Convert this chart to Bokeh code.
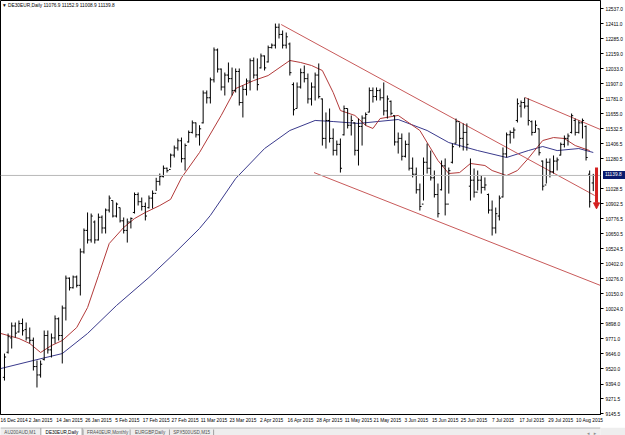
from bokeh.plotting import figure
from bokeh.models import Range1d, FixedTicker, Label, Arrow, NormalHead, Span, ColumnDataSource, LinearAxis, Div
from bokeh.layouts import column
from bokeh.transform import dodge
from bokeh.embed import file_html
from bokeh.resources import INLINE
from bokeh.core.properties import value

FONT = "Liberation Sans"

symbol = "DE30EUR,Daily"

# ---- daily OHLC bars, bar 0 = 16 Dec 2014 ----
highs = [9649, 9817, 9909, 9909, 9926, 9942, 9909, 9867, 9783, 9591,
         9591, 9842, 9842, 9817, 9968, 9951, 10051, 10302, 10286, 10302,
         10302, 10528, 10696, 10830, 10821, 10763, 10821, 10805, 10863, 10972,
         10930, 10913, 10871, 10788, 10779, 10788, 10997, 10997, 10955, 10913,
         10972, 11014, 11120, 11156, 11223, 11206, 11323, 11390, 11449, 11457,
         11407, 11516, 11600, 11583, 11560, 11851, 11851, 11959, 12211, 12202,
         12035, 12001, 12085, 12043, 12035, 12035, 11893, 11951, 12119, 12127,
         12119, 12160, 12144, 12227, 12244, 12411, 12411, 12353, 12336, 12252,
         11918, 11918, 12035, 12060, 11993, 11918, 12001, 12077, 11784, 11667,
         11700, 11533, 11432, 11449, 11725, 11700, 11642, 11583, 11616, 11642,
         11667, 11876, 11876, 11876, 11867, 11918, 11809, 11767, 11642, 11499,
         11491, 11432, 11499, 11290, 11206, 11072, 11290, 11407, 11348, 11181,
         11072, 11265, 11282, 11206, 11407, 11616, 11583, 11575, 11575, 11282,
         11198, 11181, 11139, 11123, 10988, 10930, 10871, 10972, 11374, 11499,
         11516, 11541, 11784, 11767, 11792, 11784, 11600, 11600, 11533, 11265,
         11282, 11282, 11307, 11290, 11415, 11474, 11491, 11658, 11616, 11600,
         11616, 11558, 11181, 11152.9]
lows = [9423, 9649, 9691, 9783, 9825, 9800, 9758, 9733, 9507, 9365,
        9448, 9591, 9649, 9616, 9733, 9758, 9566, 9926, 10177, 10193,
        10202, 10135, 10486, 10570, 10578, 10570, 10595, 10654, 10654, 10830,
        10788, 10788, 10746, 10654, 10578, 10696, 10821, 10888, 10846, 10763,
        10863, 10863, 11010, 11056, 11123, 11164, 11206, 11290, 11348, 11248,
        11181, 11415, 11491, 11457, 11390, 11575, 11742, 11742, 11918, 12001,
        11851, 11809, 11918, 11809, 11834, 11725, 11625, 11809, 11851, 11951,
        11851, 12035, 12018, 12085, 12202, 12202, 12286, 12202, 12202, 11976,
        11642, 11700, 11867, 11918, 11742, 11725, 11767, 11784, 11390, 11365,
        11415, 11307, 11307, 11164, 11474, 11533, 11474, 11307, 11223, 11390,
        11558, 11667, 11750, 11767, 11767, 11642, 11616, 11642, 11390, 11323,
        11265, 11290, 11181, 11123, 10988, 10846, 10930, 11156, 11097, 10955,
        10788, 11014, 10805, 10988, 11240, 11407, 11374, 11348, 11348, 10930,
        10955, 11014, 10988, 11014, 10821, 10637, 10654, 10763, 10955, 11290,
        11407, 11449, 11583, 11625, 11700, 11558, 11474, 11499, 11307, 11014,
        11072, 11123, 11156, 11181, 11307, 11374, 11390, 11491, 11474, 11491,
        11449, 11265, 10871, 11008.9]
opens = [9450, 9660, 9780, 9880, 9830, 9900, 9850, 9780, 9760, 9540,
         9470, 9600, 9800, 9680, 9780, 9940, 9800, 10030, 10280, 10200,
         10290, 10220, 10500, 10680, 10600, 10750, 10600, 10790, 10700, 10850,
         10930, 10800, 10870, 10760, 10680, 10750, 10830, 10980, 10920, 10880,
         10870, 10950, 10990, 11090, 11130, 11200, 11190, 11310, 11370, 11430,
         11280, 11420, 11500, 11580, 11480, 11580, 11830, 11790, 11940, 12190,
         12030, 11880, 11980, 11950, 11850, 12010, 11750, 11860, 11930, 12100,
         11980, 12040, 12140, 12090, 12210, 12230, 12380, 12320, 12230, 12240,
         11900, 11700, 11880, 12000, 11950, 11780, 11880, 11980, 11780, 11450,
         11600, 11450, 11350, 11400, 11480, 11700, 11560, 11580, 11350, 11550,
         11620, 11670, 11850, 11800, 11850, 11790, 11680, 11760, 11640, 11420,
         11450, 11300, 11400, 11200, 11150, 11020, 10900, 11250, 11200, 11120,
         10980, 11020, 11220, 10900, 11250, 11410, 11590, 11450, 11500, 11050,
         11100, 11000, 11100, 11040, 10980, 10850, 10700, 10800, 10960, 11320,
         11480, 11500, 11600, 11720, 11750, 11720, 11590, 11500, 11530, 11260,
         11060, 11250, 11170, 11260, 11310, 11400, 11450, 11500, 11600, 11500,
         11580, 11550, 11150, 11076.9]
closes = [9620, 9790, 9880, 9820, 9900, 9840, 9780, 9760, 9540, 9470,
          9560, 9800, 9680, 9780, 9940, 9800, 10030, 10280, 10200, 10290,
          10220, 10500, 10680, 10600, 10800, 10600, 10790, 10700, 10850, 10950,
          10800, 10900, 10760, 10680, 10750, 10780, 10980, 10920, 10880, 10800,
          10950, 10990, 11090, 11130, 11200, 11180, 11310, 11370, 11430, 11280,
          11390, 11500, 11580, 11480, 11530, 11830, 11790, 11940, 12190, 12030,
          11880, 11980, 11950, 11850, 12010, 11750, 11860, 11930, 12100, 11980,
          11900, 12140, 12040, 12210, 12230, 12380, 12320, 12230, 12300, 12000,
          11690, 11880, 12000, 11950, 11780, 11880, 11980, 11800, 11450, 11600,
          11450, 11350, 11400, 11200, 11700, 11560, 11600, 11350, 11550, 11620,
          11650, 11850, 11800, 11850, 11790, 11680, 11780, 11660, 11420, 11450,
          11300, 11400, 11200, 11150, 11020, 10880, 11250, 11200, 11120, 10980,
          10820, 11220, 10900, 11180, 11380, 11590, 11450, 11500, 11400, 11100,
          11000, 11100, 11040, 11060, 10850, 10700, 10820, 10950, 11320, 11480,
          11500, 11520, 11740, 11750, 11720, 11600, 11500, 11560, 11330, 11050,
          11250, 11170, 11260, 11270, 11400, 11450, 11470, 11640, 11500, 11580,
          11600, 11290, 10920, 11139.8]

# ---- moving averages, read at sample bars ----
ma_fast_idx = [-1, 4, 7, 10, 13, 16, 20, 23, 26, 29, 33, 36, 39, 43, 46, 49, 54, 60, 64,
               69, 73, 79, 82, 85, 88, 91, 93, 97, 100, 102, 104, 109, 115, 120, 123,
               126, 129, 133, 135, 139, 142, 145, 149, 152, 155, 158, 162]
ma_fast_val = [9817, 9775, 9733, 9658, 9716, 9758, 9867, 10034, 10300, 10570, 10704,
               10779, 10830, 10888, 10940, 11120, 11332, 11642, 11867, 11934, 11976,
               12102, 12085, 12060, 12018, 11834, 11683, 11642, 11558, 11533, 11616,
               11642, 11516, 11265, 11156, 11164, 11240, 11223, 11181, 11139, 11181,
               11282, 11432, 11457, 11449, 11390, 11348]
ma_slow_idx = [-1, 8, 16, 23, 31, 40, 47, 54, 57, 64, 72, 79, 86, 91, 98, 109, 117,
               123, 131, 139, 145, 149, 153, 159, 163]
ma_slow_val = [9524, 9591, 9649, 9817, 10051, 10286, 10486, 10696, 10805, 11114, 11365,
               11516, 11600, 11591, 11575, 11608, 11516, 11415, 11348, 11290, 11348,
               11382, 11348, 11365, 11332]

# ---- hand-drawn trend lines and arrow ----
trend_upper_idx = [76.6, 163.4]
trend_upper_val = [12403, 10972]
trend_lower_idx = [85.7, 165.0]
trend_lower_val = [11164, 10219]
trend_right_idx = [144.1, 165.0]
trend_right_val = [11792, 11524]
arrow_idx = 163.9
arrow_from = 11206
arrow_to = 10860

# ---- axes ----
date_labels = ["16 Dec 2014", "2 Jan 2015", "14 Jan 2015", "26 Jan 2015", "5 Feb 2015",
               "17 Feb 2015", "27 Feb 2015", "11 Mar 2015", "23 Mar 2015", "2 Apr 2015",
               "16 Apr 2015", "28 Apr 2015", "11 May 2015", "21 May 2015", "3 Jun 2015",
               "15 Jun 2015", "25 Jun 2015", "7 Jul 2015", "17 Jul 2015", "29 Jul 2015",
               "10 Aug 2015"]
date_idx = [0, 8, 16, 24, 32, 40, 48, 56, 64, 72, 80, 88, 96, 104, 112, 120, 128, 136,
            144, 152, 160]
price_ticks = [12537.0, 12411.0, 12285.0, 12159.0, 12033.0, 11907.0, 11781.0, 11655.0,
               11532.5, 11406.5, 11280.5, 11028.5, 10902.5, 10776.5, 10650.5, 10524.5,
               10402.0, 10276.0, 10150.0, 10024.0, 9898.0, 9771.0, 9646.0, 9520.0,
               9394.0, 9271.5, 9145.5]

tab_names = ["AU200AUD,M1", "DE30EUR,Daily", "FRA40EUR,Monthly", "EURGBP,Daily", "SPX500USD,M15"]

X0, X1 = -1.1, 165.0
Y0, Y1 = 9139, 12604
FS = "4.8px"

p = figure(width=625, height=425, x_range=Range1d(X0, X1), y_range=Range1d(Y0, Y1),
           output_backend="svg", toolbar_location=None,
           x_axis_location=None, y_axis_location=None,
           min_border_left=0, min_border_top=0, min_border_right=22, min_border_bottom=11)
p.grid.visible = False
p.background_fill_color = "white"
p.border_fill_color = "white"
p.outline_line_color = "black"
p.outline_line_width = 1

ay = LinearAxis(ticker=FixedTicker(ticks=price_ticks),
                major_label_overrides={t: f"{t:.1f}" for t in price_ticks})
ay.major_label_text_font = FONT
ay.major_label_text_font_size = FS
ay.major_label_text_color = "black"
ay.major_tick_out = 3
ay.major_tick_in = 0
ay.minor_tick_out = 0
ay.minor_tick_in = 0
ay.major_label_standoff = 2
ay.axis_line_color = "black"
p.add_layout(ay, "right")

shift = 2
ax = LinearAxis(ticker=FixedTicker(ticks=[i + shift for i in date_idx]),
                major_label_overrides={i + shift: lab for i, lab in zip(date_idx, date_labels)})
ax.major_label_text_font = FONT
ax.major_label_text_font_size = FS
ax.major_label_text_color = "black"
ax.major_tick_out = 0
ax.major_tick_in = 0
ax.minor_tick_out = 0
ax.minor_tick_in = 0
ax.major_label_standoff = 3
ax.axis_line_color = "black"
p.add_layout(ax, "below")

# bid line
p.add_layout(Span(location=closes[-1], dimension="width", line_color="#b8b8b8", line_width=1))

# moving averages
p.line(ma_slow_idx, ma_slow_val, line_color="#3a3a8c", line_width=1)
p.line(ma_fast_idx, ma_fast_val, line_color="#b23a3a", line_width=1)

# trend lines
for xs, ys in [(trend_upper_idx, trend_upper_val), (trend_lower_idx, trend_lower_val),
               (trend_right_idx, trend_right_val)]:
    p.line(xs, ys, line_color="#c85a5a", line_width=1)

# OHLC bars
src = ColumnDataSource(dict(x=list(range(len(highs))), h=highs, l=lows, o=opens, c=closes))
p.segment(x0="x", y0="l", x1="x", y1="h", source=src, line_color="black", line_width=1)
p.segment(x0=dodge("x", -0.45), y0="o", x1="x", y1="o", source=src, line_color="black", line_width=1)
p.segment(x0="x", y0="c", x1=dodge("x", 0.45), y1="c", source=src, line_color="black", line_width=1)

# red arrow
p.add_layout(Arrow(end=NormalHead(size=6, fill_color="#d42020", line_color="#d42020"),
                   x_start=arrow_idx, y_start=arrow_from, x_end=arrow_idx, y_end=arrow_to,
                   line_color="#d42020", line_width=3))

# header
header = "\u25bc " + symbol + "  " + " ".join(f"{v:.1f}" for v in
                                            (opens[-1], highs[-1], lows[-1], closes[-1]))
p.add_layout(Label(x=X0 + 0.4, y=Y1 - 40, text=header, text_font=FONT,
                   text_font_size=FS, text_color="black", text_baseline="middle"))

# ---- tab bar ----
t = figure(width=625, height=10, x_range=Range1d(0, 625), y_range=Range1d(0, 10),
           output_backend="svg", toolbar_location=None,
           x_axis_location=None, y_axis_location=None, min_border=0)
t.grid.visible = False
t.outline_line_color = None
t.background_fill_color = "#eeeeee"
t.border_fill_color = "#eeeeee"
tab_x = [4, 47, 90, 140, 180]
sep_x = [86, 135, 176, 222]
t.quad(left=[42], right=[85], bottom=[0], top=[9.6], fill_color="white", line_color="#a0a0a0")
t.segment(x0=[0], y0=[9.6], x1=[42], y1=[9.6], line_color="#a0a0a0")
t.segment(x0=[85], y0=[9.6], x1=[625], y1=[9.6], line_color="#a0a0a0")
t.segment(x0=sep_x, y0=[2] * len(sep_x), x1=sep_x, y1=[8] * len(sep_x), line_color="#a0a0a0")
t.text(x=tab_x, y=[5] * len(tab_x), text=tab_names, text_font=value(FONT),
       text_font_size="4.6px", text_baseline="middle",
       text_color=["#505050", "black", "#505050", "#505050", "#505050"])
t.text(x=[611, 618], y=[5, 5], text=["\u25c2", "\u25b8"], text_font=value("DejaVu Sans"),
       text_font_size="5px", text_baseline="middle", text_color="#909090")

# bid price box sitting on the price axis
bid_top = (Y1 - closes[-1]) / (Y1 - Y0) * 414 - 4
box = Div(text=f"{closes[-1]:.1f}", width=22, height=8, margin=0,
          styles={"position": "absolute", "left": "603px", "top": f"{bid_top:.0f}px",
                  "background-color": "#0a1a6e", "color": "white",
                  "font-family": FONT, "font-size": "4.8px", "line-height": "8px",
                  "padding-left": "2px", "box-sizing": "border-box", "z-index": "10",
                  "overflow": "hidden"})

layout = column(p, t, box, spacing=0)
open("out.html", "w").write(file_html(layout, INLINE))
